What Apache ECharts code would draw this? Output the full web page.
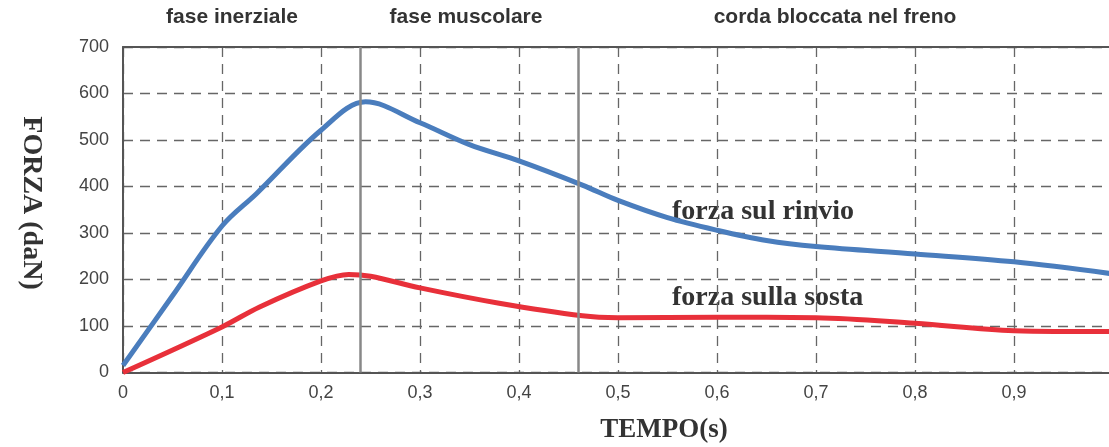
<!DOCTYPE html>
<html>
<head>
<meta charset="utf-8">
<script src="https://cdn.jsdelivr.net/npm/echarts@6/dist/echarts.min.js"></script>
<style>
html,body{margin:0;padding:0;background:#fff;}
#c{width:1109px;height:447px;}
</style>
</head>
<body>
<div id="c"></div>
<script>
// ---- data ----
const timeRinvio  = [0, 0.05, 0.1, 0.135, 0.2, 0.245, 0.3, 0.35, 0.4, 0.464, 0.5, 0.55, 0.6, 0.65, 0.7, 0.8, 0.9, 1.0];
const forceRinvio = [15, 165, 315, 385, 521, 582, 537, 490, 455, 403, 370, 333, 306, 284, 271, 255, 238, 212];
const timeSosta   = [0, 0.1, 0.138, 0.2, 0.228, 0.25, 0.3, 0.38, 0.464, 0.5, 0.6, 0.7, 0.8, 0.9, 1.0];
const forceSosta  = [0, 98, 141, 197, 211, 207, 182, 149, 122, 118, 119, 118, 106, 90, 88];
const phaseBoundaries = [0.24, 0.464];
const phaseLabels = ['fase inerziale', 'fase muscolare', 'corda bloccata nel freno'];
const seriesNames = ['forza sul rinvio', 'forza sulla sosta'];
const yTicks = [0, 100, 200, 300, 400, 500, 600, 700];
const xTicks = [0, 0.1, 0.2, 0.3, 0.4, 0.5, 0.6, 0.7, 0.8, 0.9, 1];

const chart = echarts.init(document.getElementById('c'), null, {renderer: 'canvas'});
const dash = [10, 7];
const serif = '"Liberation Serif", "DejaVu Serif", serif';
const sans = '"Liberation Sans", Arial, sans-serif';

const fmtX = v => (Math.round(v * 10) / 10).toString().replace('.', ',');

const option = {
  animation: false,
  backgroundColor: '#fff',
  grid: {left: 123, right: -4, top: 47, bottom: 74.5, outerBoundsMode: 'none', containLabel: false},
  xAxis: [{
    type: 'value', min: xTicks[0], max: xTicks[xTicks.length - 1], interval: 0.1,
    axisLine: {show: true, lineStyle: {color: '#555', width: 2}},
    axisTick: {show: false},
    axisLabel: {formatter: fmtX, color: '#444', fontSize: 18, fontFamily: sans, margin: 12, showMaxLabel: true, hideOverlap: false},
    splitLine: {show: true, lineStyle: {color: '#666', width: 1.3, type: dash}}
  }, {
    type: 'value', position: 'top', min: 0, max: 1, interval: 0.1,
    axisLine: {show: true, lineStyle: {color: '#555', width: 2}},
    axisTick: {show: false}, axisLabel: {show: false}, splitLine: {show: false}
  }],
  yAxis: {
    type: 'value', min: yTicks[0], max: yTicks[yTicks.length - 1], interval: 100,
    axisLine: {show: true, lineStyle: {color: '#555', width: 2}},
    axisTick: {show: false},
    axisLabel: {color: '#444', fontSize: 18, fontFamily: sans, margin: 14},
    splitLine: {show: true, lineStyle: {color: '#666', width: 1.3, type: dash}}
  },
  series: [{
    name: seriesNames[0], type: 'line', smooth: 0.35, symbol: 'none',
    data: timeRinvio.map((t, i) => [t, forceRinvio[i]]),
    lineStyle: {color: '#4a7dbd', width: 5}, z: 3,
    markLine: {
      silent: true, symbol: ['none', 'none'], label: {show: false},
      lineStyle: {color: '#888', width: 2.5, type: 'solid'},
      data: phaseBoundaries.map(b => ({xAxis: b}))
    }
  }, {
    name: seriesNames[1], type: 'line', smooth: 0.35, symbol: 'none',
    data: timeSosta.map((t, i) => [t, forceSosta[i]]),
    lineStyle: {color: '#e8303a', width: 5}, z: 3
  }],
  graphic: [
    {type: 'text', x: 232, y: 17, style: {text: phaseLabels[0], font: 'bold 21px ' + sans, fill: '#333', textAlign: 'center', textVerticalAlign: 'middle'}},
    {type: 'text', x: 466, y: 17, style: {text: phaseLabels[1], font: 'bold 21px ' + sans, fill: '#333', textAlign: 'center', textVerticalAlign: 'middle'}},
    {type: 'text', x: 835, y: 17, style: {text: phaseLabels[2], font: 'bold 21px ' + sans, fill: '#333', textAlign: 'center', textVerticalAlign: 'middle'}},
    {type: 'text', x: 672, y: 212, style: {text: seriesNames[0], font: 'bold 28px ' + serif, fill: '#333', textAlign: 'left', textVerticalAlign: 'middle'}},
    {type: 'text', x: 672, y: 298, style: {text: seriesNames[1], font: 'bold 28px ' + serif, fill: '#333', textAlign: 'left', textVerticalAlign: 'middle'}},
    {type: 'text', x: 664, y: 430, style: {text: 'TEMPO(s)', font: 'bold 27px ' + serif, fill: '#333', textAlign: 'center', textVerticalAlign: 'middle'}},
    {type: 'text', x: 31, y: 203, rotation: -Math.PI / 2, style: {text: 'FORZA (daN)', font: 'bold 28px ' + serif, fill: '#333', textAlign: 'center', textVerticalAlign: 'middle'}}
  ]
};
chart.setOption(option);
</script>
</body>
</html>
